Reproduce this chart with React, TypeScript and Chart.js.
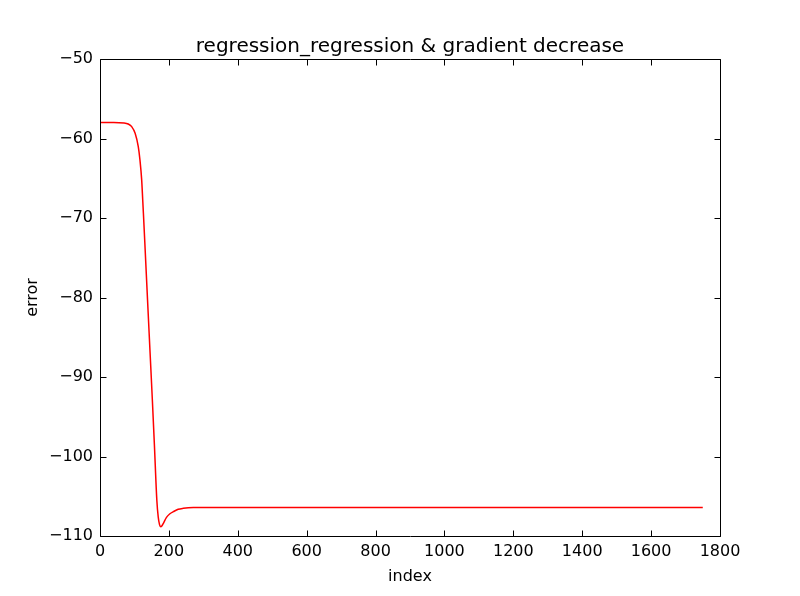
import React, { useEffect, useRef } from 'react';
import { Chart, registerables } from 'chart.js';
Chart.register(...registerables);

const TITLE = 'regression_regression & gradient decrease';
const X_LABEL = 'index';
const Y_LABEL = 'error';
const X_MIN = 0;
const X_MAX = 1800;
const X_STEP = 200;
const Y_MIN = -110;
const Y_MAX = -50;
const Y_STEP = 10;

const indices = [0, 40, 70, 82, 92, 102, 111, 116, 121, 124, 126, 131, 138, 145, 152, 158, 165, 169, 173, 176, 180, 184, 193, 203, 213, 227, 242, 271, 320, 1750];
const errors = [-58.0, -58.0, -58.05, -58.18, -58.5, -59.35, -61.0, -62.7, -65.2, -67.7, -69.4, -73.9, -80.3, -86.6, -92.9, -98.6, -105.5, -107.6, -108.6, -108.83, -108.7, -108.4, -107.65, -107.2, -106.94, -106.64, -106.52, -106.42, -106.4, -106.4];

const FONT = 'DejaVu Sans';
const fmt = (v: number | string) => String(v).replace('-', '\u2212');

const framePlugin = {
  id: 'frame',
  afterDraw(chart: any) {
    const { ctx, chartArea: a, scales } = chart;
    const x = scales.x;
    const y = scales.y;
    ctx.save();
    ctx.strokeStyle = '#000';
    ctx.lineWidth = 1;
    const L = Math.round(a.left) + 0.5;
    const R = Math.round(a.right) + 0.5;
    const T = Math.round(a.top) + 0.5;
    const B = Math.round(a.bottom) + 0.5;
    ctx.beginPath();
    ctx.rect(L, T, R - L, B - T);
    ctx.stroke();
    const len = 6;
    ctx.beginPath();
    for (let v = X_MIN; v <= X_MAX; v += X_STEP) {
      const px = Math.round(x.getPixelForValue(v)) + 0.5;
      ctx.moveTo(px, B);
      ctx.lineTo(px, B - len);
      ctx.moveTo(px, T);
      ctx.lineTo(px, T + len);
    }
    for (let v = Y_MIN; v <= Y_MAX; v += Y_STEP) {
      const py = Math.round(y.getPixelForValue(v)) + 0.5;
      ctx.moveTo(L, py);
      ctx.lineTo(L + len, py);
      ctx.moveTo(R, py);
      ctx.lineTo(R - len, py);
    }
    ctx.stroke();
    ctx.fillStyle = '#000';
    ctx.font = `20px "${FONT}"`;
    ctx.textAlign = 'center';
    ctx.textBaseline = 'alphabetic';
    ctx.fillText(TITLE, (a.left + a.right) / 2, 52);
    ctx.restore();
  },
};

export default function App() {
  const ref = useRef<HTMLCanvasElement>(null);
  useEffect(() => {
    document.body.style.margin = '0';
    const data = indices.map((x, i) => ({ x, y: errors[i] }));
    const chart = new Chart(ref.current!, {
      type: 'line',
      data: {
        datasets: [
          {
            data,
            borderColor: '#ff0000',
            borderWidth: 1.5,
            pointRadius: 0,
            fill: false,
            cubicInterpolationMode: 'monotone',
          },
        ],
      },
      options: {
        animation: false,
        responsive: false,
        devicePixelRatio: 1,
        layout: { padding: { top: 59, right: 80, left: 0, bottom: 0 } },
        plugins: { legend: { display: false }, tooltip: { enabled: false }, title: { display: false } },
        scales: {
          x: {
            type: 'linear',
            min: X_MIN,
            max: X_MAX,
            grid: { display: false, drawTicks: false },
            border: { display: false },
            ticks: { stepSize: X_STEP, color: '#000', font: { family: FONT, size: 16 }, padding: 6, callback: (v: any) => fmt(v), maxRotation: 0 },
            title: { display: true, text: X_LABEL, color: '#000', font: { family: FONT, size: 16 }, padding: { top: 0, bottom: 10 } },
            afterFit: (s: any) => { s.height = 60; },
          },
          y: {
            type: 'linear',
            min: Y_MIN,
            max: Y_MAX,
            grid: { display: false, drawTicks: false },
            border: { display: false },
            ticks: { stepSize: Y_STEP, color: '#000', font: { family: FONT, size: 16 }, padding: 7, callback: (v: any) => fmt(v) },
            title: { display: true, text: Y_LABEL, color: '#000', font: { family: FONT, size: 16 }, padding: { top: 23, bottom: 0 } },
            afterFit: (s: any) => { s.width = 100; },
          },
        },
      },
      plugins: [framePlugin],
    });
    return () => chart.destroy();
  }, []);
  return (
    <div style={{ position: 'absolute', left: 0, top: 0, width: 800, height: 596, background: '#fff' }}>
      <canvas ref={ref} width={800} height={596} style={{ width: 800, height: 596, display: 'block' }} />
    </div>
  );
}
